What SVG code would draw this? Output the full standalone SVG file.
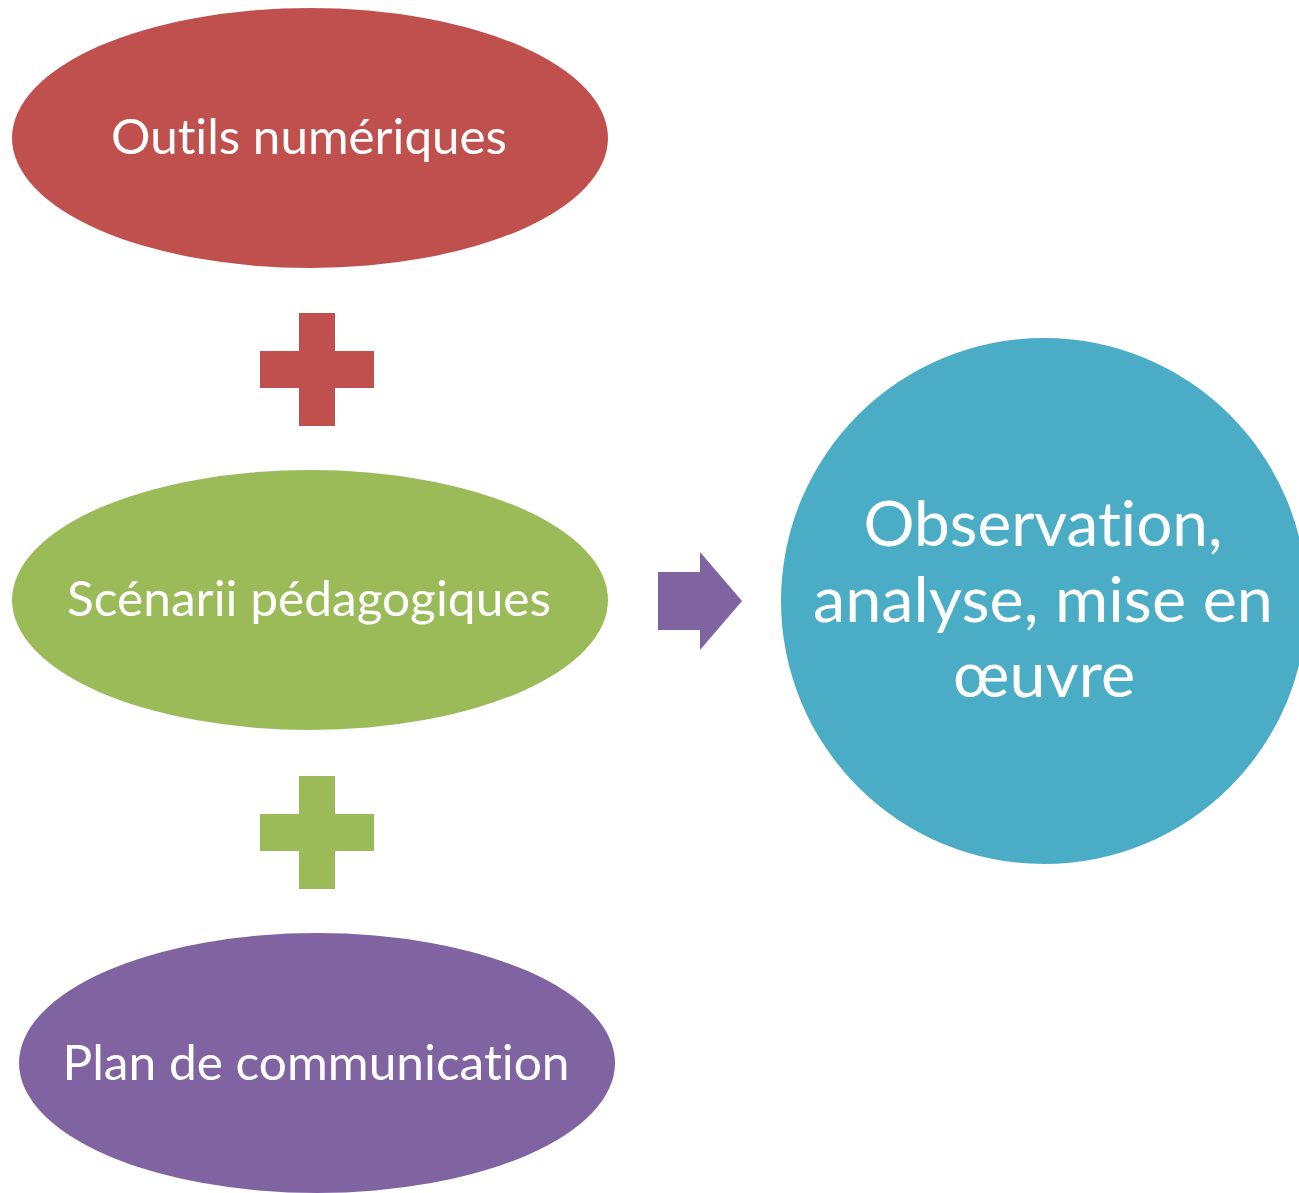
<svg xmlns="http://www.w3.org/2000/svg" width="1299" height="1193" viewBox="0 0 1299 1193">
<style>
.lbl{font-family:Lato,"Open Sans","Liberation Sans",sans-serif;fill:#fff;text-anchor:middle;font-variant-ligatures:none;font-feature-settings:"liga" 0,"clig" 0}
.sm{font-size:48px}
.bg{font-size:62px}
</style>
<rect width="1299" height="1193" fill="#fff"/>
<g id="node-outils">
<ellipse cx="310" cy="138" rx="298" ry="130" fill="#C0504D"/>
<text class="lbl sm" x="309" y="154" textLength="396" lengthAdjust="spacingAndGlyphs">Outils numériques</text>
</g>
<g id="plus-1">
<rect x="299" y="313" width="36" height="113" fill="#C0504D"/>
<rect x="260" y="351" width="114" height="37" fill="#C0504D"/>
</g>
<g id="node-scenarii">
<ellipse cx="310" cy="600" rx="298" ry="130" fill="#9BBB59"/>
<text class="lbl sm" x="309" y="616" textLength="484" lengthAdjust="spacingAndGlyphs">Scénarii pédagogiques</text>
</g>
<g id="plus-2">
<rect x="299" y="776" width="36" height="113" fill="#9BBB59"/>
<rect x="260" y="814" width="114" height="37" fill="#9BBB59"/>
</g>
<g id="node-plan">
<ellipse cx="317" cy="1063" rx="298" ry="130" fill="#8064A2"/>
<text class="lbl sm" x="316" y="1080" textLength="507" lengthAdjust="spacingAndGlyphs">Plan de communication</text>
</g>
<g id="connectors">
<polygon points="658,572 700,572 700,552 742,601 700,650 700,630 658,630" fill="#8064A2"/>
</g>
<g id="node-observation">
<circle cx="1044" cy="601" r="263" fill="#4BACC6"/>
<text class="lbl bg" x="1043" y="546" textLength="359" lengthAdjust="spacingAndGlyphs">Observation,</text>
<text class="lbl bg" x="1043" y="622" textLength="460" lengthAdjust="spacingAndGlyphs">analyse, mise en</text>
<text class="lbl bg" x="1044" y="697" textLength="182" lengthAdjust="spacingAndGlyphs">œuvre</text>
</g>
</svg>
